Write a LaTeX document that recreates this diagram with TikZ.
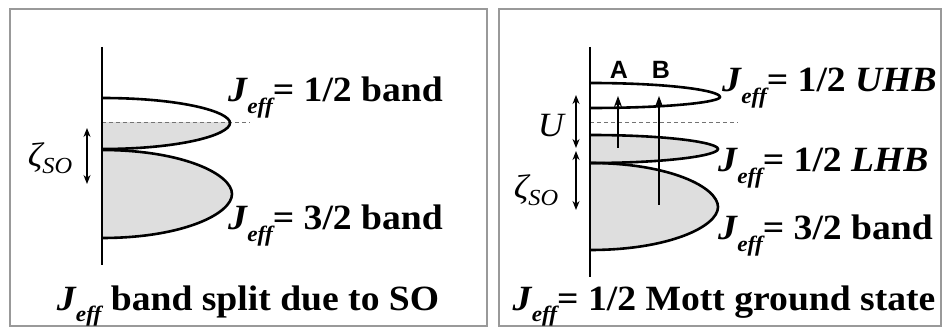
\documentclass[tikz,border=0pt]{standalone}
\usepackage{fontspec}
\setmainfont{Liberation Serif}[FakeStretch=1.06]
\setsansfont{Liberation Sans}
\usetikzlibrary{arrows.meta}
\newcommand{\Jeff}{{\bfseries\itshape J}\kern0.01em\raisebox{-0.33em}{\fontsize{22}{22}\selectfont\bfseries\itshape eff}}
\newcommand{\zso}{{\itshape ζ}\raisebox{-0.2em}{\fontsize{23}{23}\selectfont\itshape SO}}
\newcommand{\lobe}[5]{(#1,#2) .. controls ({#1+0.62*(#3-#1)},#2) and (#3,{#4-0.45*(#4-#2)}) .. (#3,#4) .. controls (#3,{#4+0.45*(#5-#4)}) and ({#1+0.62*(#3-#1)},#5) .. (#1,#5)}
\begin{document}
\begin{tikzpicture}[x=1pt,y=-1pt,
  frame/.style={draw=black!40,line width=2.5pt},
  axisline/.style={line width=2.6pt},
  bandline/.style={line width=2.6pt},
  bandfill/.style={fill=black!13},
  fermi/.style={draw=black!55,dashed,line width=1pt,dash pattern=on 4pt off 3pt},
  gap/.style={line width=1.4pt,{Stealth[length=9pt,width=7pt]}-{Stealth[length=9pt,width=7pt]}},
  exc/.style={line width=1.6pt,-{Stealth[length=11pt,width=8pt]}},
  lbl/.style={font=\fontsize{35.5}{35.5}\selectfont\bfseries,inner sep=0pt},
  captext/.style={font=\fontsize{35.5}{35.5}\selectfont\bfseries,inner sep=0pt},
  sym/.style={font=\fontsize{34}{34}\selectfont,inner sep=0pt},
  ab/.style={font=\sffamily\bfseries\fontsize{25}{25}\selectfont,inner sep=0pt}]
\useasboundingbox (0,0) rectangle (944,328);
\fill[white] (0,0) rectangle (944,328);
% frames
\draw[frame] (10,9) rectangle (487,326);
\draw[frame] (499,9) rectangle (941,326);

% ---------- left panel ----------
\begin{scope}
\clip (95,123) rectangle (260,200);
\fill[bandfill] \lobe{102}{98}{230}{123}{149};
\end{scope}
\fill[bandfill] \lobe{102}{150}{232}{194}{238};
\draw[fermi] (102,123) -- (250,123);
\draw[bandline] \lobe{102}{98}{230}{123}{149};
\draw[bandline] \lobe{102}{150}{232}{194}{238};
\draw[axisline] (102,47) -- (102,265);
\coordinate (lz1) at (87,128);
\coordinate (lz2) at (87,184);
\draw[gap] (lz1) -- (lz2);
\node[sym] (lzl) at (50,158) {\zso};
\node[lbl,anchor=base west] (l12) at (228,102) {\Jeff= 1/2 band};
\node[lbl,anchor=base west] (l32) at (228,230) {\Jeff= 3/2 band};
\node[captext,anchor=base] (lcap) at (248,310) {\Jeff\ band split due to SO};

% ---------- right panel ----------
\fill[bandfill] \lobe{590}{135}{718}{149}{163};
\fill[bandfill] \lobe{590}{163}{718}{207}{250};
\draw[fermi] (590,123) -- (738,123);
\draw[bandline] \lobe{590}{83}{720}{97}{108};
\draw[bandline] \lobe{590}{135}{718}{149}{163};
\draw[bandline] \lobe{590}{163}{718}{207}{250};
\draw[axisline] (590,47) -- (590,277);
\coordinate (ru1) at (576,95);
\coordinate (ru2) at (576,148);
\coordinate (rz1) at (576,151);
\coordinate (rz2) at (576,210);
\draw[gap] (ru1) -- (ru2);
\draw[gap] (rz1) -- (rz2);
\node[sym] (rul) at (551,126) {\itshape U};
\node[sym] (rzl) at (536,190) {\zso};
\coordinate (a0) at (618,148);
\coordinate (a1) at (618,96);
\coordinate (b0) at (659,205);
\coordinate (b1) at (659,96);
\draw[exc] (a0) -- (a1);
\draw[exc] (b0) -- (b1);
\node[ab] (al) at (619,70) {A};
\node[ab] (bl) at (661,70) {B};
\node[lbl,anchor=base west] (ruhb) at (722,92) {\Jeff= 1/2 \itshape UHB};
\node[lbl,anchor=base west] (rlhb) at (718,172) {\Jeff= 1/2 \itshape LHB};
\node[lbl,anchor=base west] (r32) at (718,240) {\Jeff= 3/2 band};
\node[captext,anchor=base] (rcap) at (724,310) {\Jeff= 1/2 Mott ground state};
\end{tikzpicture}
\end{document}
